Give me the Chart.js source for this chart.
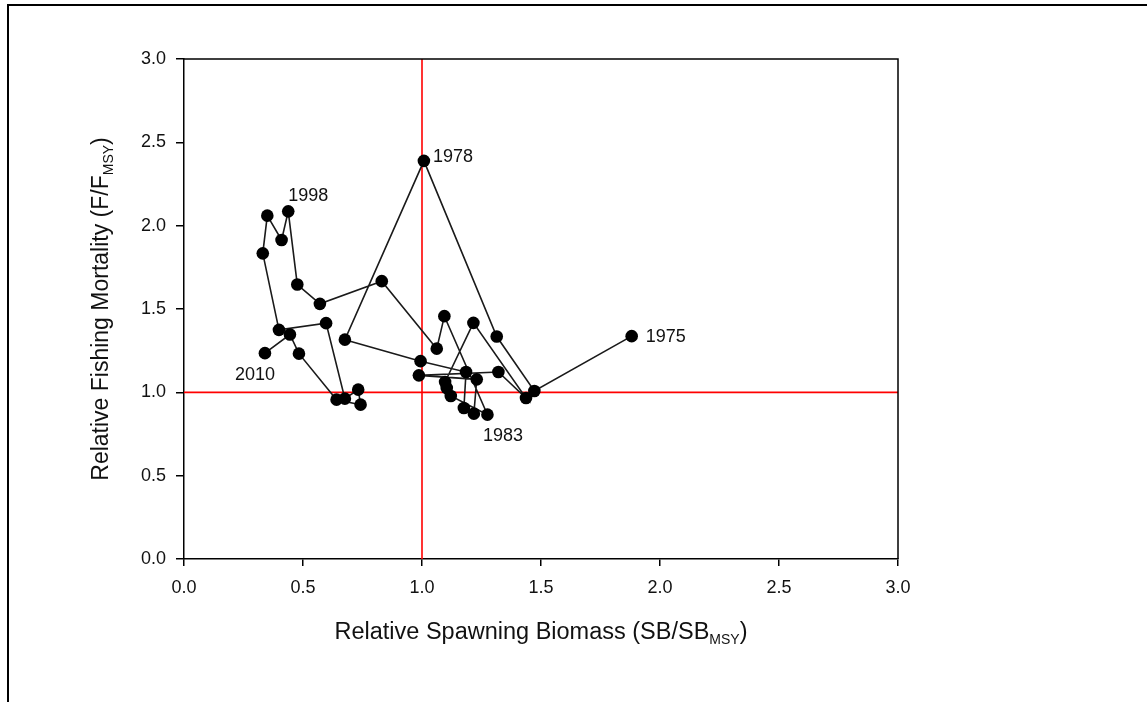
<!DOCTYPE html>
<html>
<head>
<meta charset="utf-8">
<script src="https://cdn.jsdelivr.net/npm/chart.js@4.4.1/dist/chart.umd.min.js"></script>
<style>
  html, body { margin: 0; padding: 0; background: #ffffff; }
  canvas { display: block; }
</style>
</head>
<body>
<canvas id="kobe" width="1147" height="702"></canvas>
<script>
// Stock trajectory, one point per year
const years = [
  1975, 1976, 1977, 1978, 1979, 1980, 1981, 1982, 1983, 1984,
  1985, 1986, 1987, 1988, 1989, 1990, 1991, 1992, 1993, 1994,
  1995, 1996, 1997, 1998, 1999, 2000, 2001, 2002, 2003, 2004,
  2005, 2006, 2007, 2008, 2009, 2010
];
// Relative spawning biomass SB/SBmsy
const sbRatio = [
  1.881, 1.472, 1.314, 1.008, 0.676, 0.994, 1.185, 1.176, 1.218, 1.230,
  0.987, 1.321, 1.437, 1.216, 1.097, 1.104, 1.121, 1.275, 1.094, 1.062,
  0.831, 0.571, 0.476, 0.438, 0.410, 0.350, 0.331, 0.399, 0.597, 0.676,
  0.732, 0.742, 0.641, 0.483, 0.445, 0.340
];
// Relative fishing mortality F/Fmsy
const fRatio = [
  1.337, 1.008, 1.335, 2.389, 1.316, 1.187, 1.122, 0.906, 0.872, 1.078,
  1.102, 1.122, 0.966, 1.417, 1.062, 1.026, 0.978, 0.866, 1.457, 1.262,
  1.667, 1.531, 1.647, 2.086, 1.914, 2.060, 1.834, 1.375, 1.415, 0.962,
  1.016, 0.926, 0.956, 1.232, 1.347, 1.235
];
// Years annotated on the plot, with text offsets in pixels
const labelledYears = [1975, 1978, 1983, 1998, 2010];
const labelOffsets = {
  1975: { dx: 14, dy: 1, align: 'left' },
  1978: { dx: 9, dy: -4, align: 'left' },
  1983: { dx: 9, dy: 22, align: 'left' },
  1998: { dx: 0, dy: -15, align: 'left' },
  2010: { dx: 10, dy: 22, align: 'right' }
};
// Axis settings
const axisMin = 0;
const axisMax = 3;
const axisStep = 0.5;
const referenceLevel = 1;

const FONT = '"Liberation Sans", Arial, Helvetica, sans-serif';

const trajectory = years.map((yr, i) => ({ x: sbRatio[i], y: fRatio[i], year: yr }));

// Axis titles with subscripts, the plot box and the outer frame
const decorPlugin = {
  id: 'decor',
  afterDraw(chart) {
    const ctx = chart.ctx;
    const a = chart.chartArea;
    ctx.save();
    // box top and right edges
    ctx.strokeStyle = '#000';
    ctx.lineWidth = 1.5;
    ctx.beginPath();
    ctx.moveTo(a.left, a.top);
    ctx.lineTo(a.right, a.top);
    ctx.lineTo(a.right, a.bottom);
    ctx.stroke();
    // outer frame
    ctx.lineWidth = 2;
    ctx.beginPath();
    ctx.moveTo(8, 702);
    ctx.lineTo(8, 5);
    ctx.lineTo(1147, 5);
    ctx.stroke();
    ctx.restore();

    drawTitle(ctx, [
      { text: 'Relative Spawning Biomass (SB/SB' },
      { text: 'MSY', sub: true },
      { text: ')' }
    ], (a.left + a.right) / 2, a.bottom + 74, 0, 23.5);

    drawTitle(ctx, [
      { text: 'Relative Fishing Mortality (F/F' },
      { text: 'MSY', sub: true },
      { text: ')' }
    ], a.left - 82, (a.top + a.bottom) / 2, -Math.PI / 2, 23);
  }
};

function drawTitle(ctx, parts, x, y, rotation, size) {
  const mainFont = size + 'px ' + FONT;
  const subFont = '14px ' + FONT;
  ctx.save();
  ctx.translate(x, y);
  ctx.rotate(rotation);
  let total = 0;
  for (const p of parts) {
    ctx.font = p.sub ? subFont : mainFont;
    total += ctx.measureText(p.text).width;
  }
  let cx = -total / 2;
  ctx.textAlign = 'left';
  ctx.textBaseline = 'middle';
  ctx.fillStyle = '#111';
  for (const p of parts) {
    ctx.font = p.sub ? subFont : mainFont;
    ctx.fillText(p.text, cx, p.sub ? 7 : 0);
    cx += ctx.measureText(p.text).width;
  }
  ctx.restore();
}

// Year annotations next to selected points
const yearLabelPlugin = {
  id: 'yearLabels',
  afterDatasetsDraw(chart) {
    const ctx = chart.ctx;
    const xs = chart.scales.x;
    const ys = chart.scales.y;
    ctx.save();
    ctx.font = '18px ' + FONT;
    ctx.fillStyle = '#111';
    ctx.textBaseline = 'middle';
    labelledYears.forEach(yr => {
      const i = years.indexOf(yr);
      const off = labelOffsets[yr];
      const px = xs.getPixelForValue(sbRatio[i]);
      const py = ys.getPixelForValue(fRatio[i]);
      ctx.textAlign = off.align;
      ctx.fillText(String(yr), px + off.dx, py + off.dy);
    });
    ctx.restore();
  }
};

const tickFont = { family: FONT, size: 18 };

new Chart(document.getElementById('kobe'), {
  type: 'scatter',
  data: {
    datasets: [
      {
        label: 'Trajectory',
        data: trajectory,
        showLine: true,
        borderColor: '#1a1a1a',
        borderWidth: 1.6,
        pointRadius: 6.3,
        pointHoverRadius: 6.3,
        pointBackgroundColor: '#000',
        pointBorderColor: '#000',
        pointBorderWidth: 0,
        order: 0
      },
      {
        label: 'F = Fmsy',
        data: [{ x: axisMin, y: referenceLevel }, { x: axisMax, y: referenceLevel }],
        showLine: true,
        borderColor: '#ff0000',
        borderWidth: 1.6,
        pointRadius: 0,
        order: 1
      },
      {
        label: 'SB = SBmsy',
        data: [{ x: referenceLevel, y: axisMin }, { x: referenceLevel, y: axisMax }],
        showLine: true,
        borderColor: '#ff0000',
        borderWidth: 1.6,
        pointRadius: 0,
        order: 1
      }
    ]
  },
  options: {
    responsive: false,
    animation: false,
    events: [],
    layout: { padding: { left: 0, top: 59, right: 249, bottom: 0 } },
    plugins: {
      legend: { display: false },
      tooltip: { enabled: false }
    },
    scales: {
      x: {
        type: 'linear',
        min: axisMin,
        max: axisMax,
        ticks: {
          stepSize: axisStep,
          callback: v => Number(v).toFixed(1),
          font: tickFont,
          color: '#111',
          padding: 11,
          maxRotation: 0
        },
        grid: {
          drawOnChartArea: false,
          drawTicks: true,
          tickLength: 7,
          color: '#000',
          lineWidth: 1.5
        },
        border: { color: '#000', width: 1.5 },
        afterFit: s => { s.height = 143; }
      },
      y: {
        type: 'linear',
        min: axisMin,
        max: axisMax,
        ticks: {
          stepSize: axisStep,
          callback: v => Number(v).toFixed(1),
          font: tickFont,
          color: '#111',
          padding: 10
        },
        grid: {
          drawOnChartArea: false,
          drawTicks: true,
          tickLength: 8,
          color: '#000',
          lineWidth: 1.5
        },
        border: { color: '#000', width: 1.5 },
        afterFit: s => { s.width = 184; }
      }
    }
  },
  plugins: [decorPlugin, yearLabelPlugin]
});
</script>
</body>
</html>
